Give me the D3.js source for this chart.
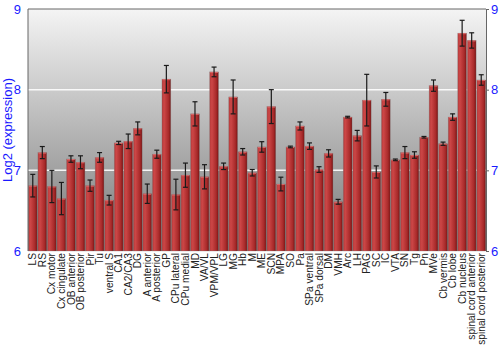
<!DOCTYPE html>
<html><head><meta charset="utf-8">
<script src="https://cdn.jsdelivr.net/npm/d3@7"></script>
<style>body{margin:0;background:#fff}</style>
</head><body><div id="c"></div>
<script>
const categories = ["LS","RS","Cx motor","Cx cingulate","OB anterior","OB posterior","Pir","Tu","ventral S","CA1","CA2/CA3","DG","A anterior","A posterior","GP","CPu lateral","CPu medial","MD","VA/VL","VPM/VPL","LG","MG","Hb","M","ME","SCN","MPA","SO","Pa","SPa ventral","SPa dorsal","DM","VMH","Arc","LH","PAG","SC","IC","VTA","SN","Tg","Pn","MVe","Cb vermis","Cb lobe","Cb nucleus","spinal cord anterior","spinal cord posterior"];
const values = [6.81,7.22,6.80,6.65,7.14,7.10,6.81,7.16,6.63,7.34,7.36,7.52,6.71,7.20,8.13,6.70,6.94,7.70,6.92,8.22,7.05,7.91,7.23,6.97,7.29,7.79,6.83,7.29,7.55,7.30,7.01,7.21,6.61,7.66,7.43,7.87,6.98,7.88,7.13,7.22,7.19,7.41,8.05,7.33,7.66,8.70,8.61,8.12];
const errors = [0.14,0.075,0.2,0.2,0.04,0.08,0.07,0.06,0.06,0.02,0.09,0.08,0.12,0.05,0.17,0.19,0.15,0.15,0.15,0.06,0.04,0.21,0.04,0.04,0.065,0.21,0.085,0.01,0.05,0.04,0.035,0.045,0.03,0.01,0.065,0.32,0.075,0.085,0.01,0.075,0.04,0.01,0.07,0.02,0.04,0.16,0.095,0.065];
const yTicks = [6,7,8,9];
const yTitle = "Log2 (expression)";

const W=500,H=350, L=28, R=486, T=9, B=251;
const svg=d3.select("#c").append("svg").attr("width",W).attr("height",H)
  .style("font-family","'Liberation Sans', Arial, sans-serif");
const defs=svg.append("defs");
const bg=defs.append("linearGradient").attr("id","bg").attr("x1",0).attr("y1",0).attr("x2",0).attr("y2",1);
bg.append("stop").attr("offset","0%").attr("stop-color","#f4f4f4");
bg.append("stop").attr("offset","100%").attr("stop-color","#787878");
const bar=defs.append("linearGradient").attr("id","bar").attr("x1",0).attr("y1",0).attr("x2",1).attr("y2",0);
bar.append("stop").attr("offset","0%").attr("stop-color","#b83a3a");
bar.append("stop").attr("offset","25%").attr("stop-color","#cc4646");
bar.append("stop").attr("offset","75%").attr("stop-color","#a82a2a");
bar.append("stop").attr("offset","100%").attr("stop-color","#7a1414");

const x=d3.scaleBand().domain(categories).range([L,R]).paddingInner(0.08).paddingOuter(0.04);
const y=d3.scaleLinear().domain([6,9]).range([B,T]);

svg.append("rect").attr("x",L).attr("y",T).attr("width",R-L).attr("height",B-T).attr("fill","url(#bg)");
svg.append("g").selectAll("line").data(yTicks.filter(d=>d>6&&d<9)).join("line")
  .attr("x1",L).attr("x2",R).attr("y1",d=>y(d)).attr("y2",d=>y(d))
  .attr("stroke","#fff").attr("stroke-width",1.5).attr("opacity",0.9);

const g=svg.append("g");
g.selectAll("rect").data(categories).join("rect")
  .attr("x",d=>x(d)).attr("width",x.bandwidth())
  .attr("y",(d,i)=>y(values[i])).attr("height",(d,i)=>B-y(values[i]))
  .attr("fill","url(#bar)").attr("stroke","rgba(120,120,120,0.5)").attr("stroke-width",0.6);
g.selectAll("line.top").data(categories).join("line").attr("class","top")
  .attr("x1",d=>x(d)+0.5).attr("x2",d=>x(d)+x.bandwidth()-0.5)
  .attr("y1",(d,i)=>y(values[i])+0.5).attr("y2",(d,i)=>y(values[i])+0.5)
  .attr("stroke","#d86a6a").attr("stroke-width",1);

const eb=svg.append("g").attr("stroke","#1a1a1a").attr("stroke-width",1.2);
categories.forEach((c,i)=>{
  const cx=x(c)+x.bandwidth()/2, y1=y(values[i]+errors[i]), y2=y(values[i]-errors[i]);
  eb.append("line").attr("x1",cx).attr("x2",cx).attr("y1",y1).attr("y2",y2);
  eb.append("line").attr("x1",cx-2.5).attr("x2",cx+2.5).attr("y1",y1).attr("y2",y1);
  eb.append("line").attr("x1",cx-2.5).attr("x2",cx+2.5).attr("y1",y2).attr("y2",y2);
});

svg.append("line").attr("x1",L).attr("x2",R).attr("y1",T).attr("y2",T).attr("stroke","#666");
svg.append("line").attr("x1",L).attr("x2",L).attr("y1",T).attr("y2",B).attr("stroke","#666");

const la=svg.append("g").attr("transform",`translate(${L},0)`).call(d3.axisLeft(y).tickValues(yTicks).tickSize(0).tickPadding(7).tickFormat(d3.format("d")));
la.select(".domain").remove();
la.selectAll("text").attr("fill","#1a1aff").style("font-size","13px").style("font-family","'Liberation Sans', Arial, sans-serif");
const ra=svg.append("g").attr("transform",`translate(${R},0)`).call(d3.axisRight(y).tickValues(yTicks).tickSize(3).tickPadding(2).tickFormat(d3.format("d")));
ra.select(".domain").attr("stroke","#666");
ra.selectAll(".tick line").attr("stroke","#666");
ra.selectAll("text").attr("fill","#1a1aff").style("font-size","13px").style("font-family","'Liberation Sans', Arial, sans-serif");

svg.append("text").attr("transform",`translate(12,${(T+B)/2}) rotate(-90)`).attr("text-anchor","middle")
  .attr("fill","#1a1aff").style("font-size","13px").text(yTitle);

const xa=svg.append("g").attr("transform",`translate(0,${B})`).call(d3.axisBottom(x).tickSize(0).tickPadding(3));
xa.select(".domain").remove();
xa.selectAll("text").attr("transform","rotate(-90)").attr("text-anchor","end")
  .attr("x",-2).attr("y",0).attr("dy","0.35em").attr("fill","#222")
  .style("font-size","10.2px").style("font-family","'Liberation Sans', Arial, sans-serif");
</script></body></html>
